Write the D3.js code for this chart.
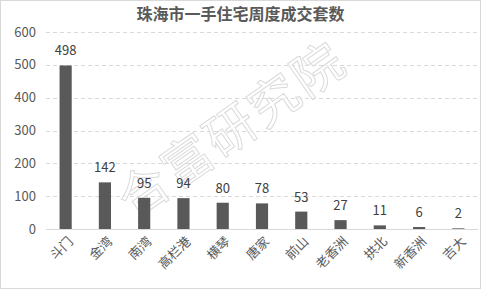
<!DOCTYPE html>
<html>
<head>
<meta charset="utf-8">
<script src="https://cdn.jsdelivr.net/npm/d3@7"></script>
<style>
body { margin: 0; background: #fff; }
svg { display: block; }
</style>
</head>
<body>
<svg id="chart" width="481" height="289"></svg>
<script>
var categories = ["斗门", "金湾", "南湾", "高栏港", "横琴", "唐家", "前山", "老香洲", "拱北", "新香洲", "吉大"];
var deals = [498, 142, 95, 94, 80, 78, 53, 27, 11, 6, 2];
var yTicks = [0, 100, 200, 300, 400, 500, 600];
var title = "珠海市一手住宅周度成交套数";
var watermark = "合富研究院";

var font = "'Microsoft YaHei', 'Noto Sans CJK SC', sans-serif";
var W = 481, H = 289;
var plotLeft = 46, plotRight = 478, plotTop = 32, plotBottom = 229;

var svg = d3.select("#chart");

svg.append("rect")
	.attr("x", 0.5).attr("y", 0.5)
	.attr("width", W - 1).attr("height", H - 1)
	.style("fill", "#fff")
	.style("stroke", "#d9d9d9");

var x = d3.scaleBand().domain(categories).range([plotLeft, plotRight]).paddingInner(0.69).paddingOuter(0.345);
var y = d3.scaleLinear().domain([0, 600]).range([plotBottom, plotTop]);

// grid
svg.append("g").selectAll("line")
	.data(yTicks.filter(function (d) { return d > 0; }))
	.enter().append("line")
	.attr("x1", plotLeft).attr("x2", plotRight)
	.attr("y1", function (d) { return Math.round(y(d)) + 0.5; })
	.attr("y2", function (d) { return Math.round(y(d)) + 0.5; })
	.style("stroke", "#d9d9d9")
	.style("stroke-dasharray", "4,3");

// watermark
svg.append("text")
	.attr("transform", "translate(232,130) rotate(-35)")
	.attr("dy", "0.35em")
	.style("text-anchor", "middle")
	.style("font-family", font)
	.style("font-size", "50px")
	.style("letter-spacing", "3px")
	.style("fill", "#fff")
	.style("fill-opacity", 0.6)
	.style("stroke", "#dadada")
	.style("stroke-width", 1)
	.text(watermark);

// y labels
svg.append("g").selectAll("text")
	.data(yTicks)
	.enter().append("text")
	.attr("x", 36)
	.attr("y", function (d) { return y(d); })
	.attr("dy", "0.35em")
	.style("text-anchor", "end")
	.style("fill", "#595959")
	.style("font-family", font)
	.style("font-size", "13px")
	.text(function (d) { return d; });

// bars
svg.append("g").selectAll("rect")
	.data(deals)
	.enter().append("rect")
	.attr("x", function (d, i) { return x(categories[i]); })
	.attr("width", x.bandwidth())
	.attr("y", function (d) { return y(d); })
	.attr("height", function (d) { return plotBottom - y(d); })
	.style("fill", "#595959");

// axis line
svg.append("line")
	.attr("x1", plotLeft).attr("x2", plotRight)
	.attr("y1", plotBottom + 0.5).attr("y2", plotBottom + 0.5)
	.style("stroke", "#d9d9d9");

// value labels
svg.append("g").selectAll("text")
	.data(deals)
	.enter().append("text")
	.attr("x", function (d, i) { return x(categories[i]) + x.bandwidth() / 2; })
	.attr("y", function (d) { return y(d) - 10; })
	.style("text-anchor", "middle")
	.style("fill", "#404040")
	.style("font-family", font)
	.style("font-size", "13px")
	.text(function (d) { return d; });

// category labels
svg.append("g").selectAll("text")
	.data(categories)
	.enter().append("text")
	.attr("transform", function (d) {
		return "translate(" + (x(d) + x.bandwidth() / 2 + 5) + "," + (plotBottom + 10) + ") rotate(-45)";
	})
	.attr("dy", "0.35em")
	.style("text-anchor", "end")
	.style("fill", "#595959")
	.style("font-family", font)
	.style("font-size", "13px")
	.text(function (d) { return d; });

// title
svg.append("text")
	.attr("x", W / 2)
	.attr("y", 20)
	.style("text-anchor", "middle")
	.style("fill", "#595959")
	.style("font-family", font)
	.style("font-size", "16px")
	.style("font-weight", "bold")
	.text(title);
</script>
</body>
</html>
